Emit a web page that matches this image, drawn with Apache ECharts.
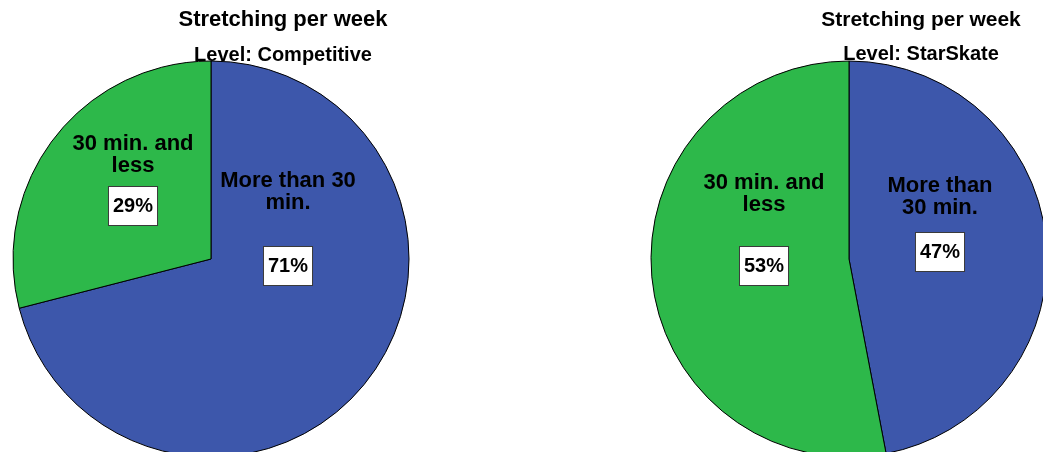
<!DOCTYPE html>
<html>
<head>
<meta charset="utf-8">
<script src="https://cdn.jsdelivr.net/npm/echarts@6/dist/echarts.min.js"></script>
<style>
html,body{margin:0;padding:0;background:#fff;}
#chart{width:1043px;height:452px;}
</style>
</head>
<body>
<div id="chart"></div>
<script>
// ---- data ----
const chartTitle = 'Stretching per week';
const levels = ['Level: Competitive', 'Level: StarSkate'];
const categories = ['More than 30 min.', '30 min. and less'];
const competitiveValues = [71, 29];
const starSkateValues = [47, 53];
// wrapped label text as shown in each panel
const competitiveLabels = ['More than 30\nmin.', '30 min. and\nless'];
const starSkateLabels = ['More than\n30 min.', '30 min. and\nless'];
const colors = ['#3D57AB', '#2DB84A'];

// ---- layout (not data) ----
const FONT = '"Liberation Sans", Arial, sans-serif';
const panels = [
  { center: [211, 259], titleX: 283, titleSize: 22, subSize: 20,
    gaps: [42, 19], anchors: [[288, 223], [133, 174.5]] },
  { center: [849, 259], titleX: 921, titleSize: 21, subSize: 20,
    gaps: [23, 40], anchors: [[940, 218.5], [764, 224]] }
];
const R = 198;

function makeRich(gaps) {
  const rich = {
    n: { fontSize: 22, fontWeight: 'bold', lineHeight: 22, color: '#000', fontFamily: FONT },
    p: { fontSize: 20, fontWeight: 'bold', lineHeight: 20, color: '#000', fontFamily: FONT,
         backgroundColor: '#fff', borderColor: '#3a3a3a', borderWidth: 1, padding: [9, 4, 9, 4] }
  };
  gaps.forEach((g, i) => { rich['g' + i] = { fontSize: 1, lineHeight: g }; });
  return rich;
}

function makeSeries(values, labels, panel) {
  return {
    type: 'pie',
    center: panel.center,
    radius: [0, R],
    startAngle: 90,
    clockwise: true,
    avoidLabelOverlap: false,
    animation: false,
    silent: true,
    itemStyle: { borderColor: '#000', borderWidth: 1 },
    emphasis: { disabled: true },
    labelLine: { show: false },
    label: {
      show: true,
      position: 'inside',
      formatter: (p) => {
        const lines = labels[p.dataIndex].split('\n').map(t => '{n|' + t + '}');
        return lines.join('\n') + '\n{g' + p.dataIndex + '| }\n{p|' + Math.round(p.percent) + '%}';
      },
      rich: makeRich(panel.gaps)
    },
    labelLayout: (params) => ({
      x: panel.anchors[params.dataIndex][0],
      y: panel.anchors[params.dataIndex][1],
      align: 'center',
      verticalAlign: 'middle'
    }),
    data: categories.map((c, i) => ({
      name: c, value: values[i], itemStyle: { color: colors[i] }
    }))
  };
}

function makeTitle(panel, sub) {
  return {
    text: chartTitle,
    subtext: sub,
    left: panel.titleX,
    top: 10,
    textAlign: 'center',
    padding: 0,
    itemGap: 13,
    textStyle: { fontSize: panel.titleSize, fontWeight: 'bold', color: '#000', lineHeight: 20, fontFamily: FONT },
    subtextStyle: { fontSize: panel.subSize, fontWeight: 'bold', color: '#000', lineHeight: 20, fontFamily: FONT }
  };
}

const chart = echarts.init(document.getElementById('chart'), null, { renderer: 'canvas' });
chart.setOption({
  backgroundColor: '#fff',
  animation: false,
  title: [makeTitle(panels[0], levels[0]), makeTitle(panels[1], levels[1])],
  series: [
    makeSeries(competitiveValues, competitiveLabels, panels[0]),
    makeSeries(starSkateValues, starSkateLabels, panels[1])
  ]
});
</script>
</body>
</html>
